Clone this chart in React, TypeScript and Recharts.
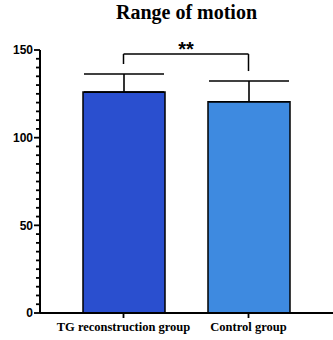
import { BarChart, Bar, XAxis, YAxis, ErrorBar, Cell, ReferenceLine } from 'recharts';

const groups = ['TG reconstruction group', 'Control group'];
const means = [126, 120.5];
const sdUpper = [10.3, 11.8];
const barColors = ['#2a4fcf', '#3e8ae0'];
const yTicks = Array.from({ length: 31 }, (_, i) => i * 5);
const majorTicks = [0, 50, 100, 150];
const bracketY = 147.7;
const bracketLegs = [142, 138];
const sigLabel = '**';

const data = groups.map((g, i) => ({ group: g, mean: means[i], err: [0, sdUpper[i]] }));

const YTick = (props: any) => {
  const { x, y, payload } = props;
  const major = majorTicks.includes(payload.value);
  const len = major ? 6 : 4;
  return (
    <g>
      <line x1={x - len} x2={x} y1={y} y2={y} stroke="#000" strokeWidth={1.8} />
      {major && (
        <text x={x - len - 1} y={y} dy="0.35em" textAnchor="end" fontSize={12} fontWeight="bold"
          fontFamily="Liberation Sans, Arial, sans-serif" fill="#000">
          {payload.value}
        </text>
      )}
    </g>
  );
};

export default function App() {
  return (
    <div style={{ position: 'absolute', left: 0, top: 0, width: 333, height: 340, background: '#fff' }}>
      <style>{'body{margin:0}'}</style>
      <div style={{
        position: 'absolute', left: 40, right: 0, top: 1, textAlign: 'center',
        fontFamily: 'Liberation Serif, Times New Roman, serif', fontWeight: 'bold', fontSize: 20, color: '#000',
      }}>
        Range of motion
      </div>
      <BarChart width={333} height={340} data={data} margin={{ top: 50, right: 0, left: 0, bottom: 0 }}>
        <XAxis dataKey="group" height={27} padding={{ left: 21, right: 22 }} axisLine={{ stroke: '#000', strokeWidth: 2 }}
          tickLine={{ stroke: '#000', strokeWidth: 1.8 }} tickSize={5} tickMargin={4}
          tick={{ fill: '#000', fontSize: 12.5, fontWeight: 'bold', fontFamily: 'Liberation Serif, Times New Roman, serif' }}
          interval={0} />
        <YAxis width={40} domain={[0, 150]} ticks={yTicks} interval={0} allowDataOverflow
          axisLine={{ stroke: '#000', strokeWidth: 2 }} tickLine={false} tickSize={0} tickMargin={0} tick={YTick} />
        <Bar dataKey="mean" barSize={82} stroke="#000" strokeWidth={1.5} isAnimationActive={false}>
          {data.map((d, i) => <Cell key={d.group} fill={barColors[i]} />)}
          <ErrorBar dataKey="err" width={40} stroke="#000" strokeWidth={1.6} direction="y" />
        </Bar>
        <ReferenceLine ifOverflow="visible" stroke="#000" strokeWidth={1.5}
          segment={[{ x: groups[0], y: bracketY }, { x: groups[1], y: bracketY }]}
          label={{ value: sigLabel, position: 'top', fill: '#000', fontSize: 20, fontWeight: 'bold', fontFamily: 'Liberation Sans, Arial, sans-serif', offset: -2 }} />
        <ReferenceLine ifOverflow="visible" stroke="#000" strokeWidth={1.5}
          segment={[{ x: groups[0], y: bracketY }, { x: groups[0], y: bracketLegs[0] }]} />
        <ReferenceLine ifOverflow="visible" stroke="#000" strokeWidth={1.5}
          segment={[{ x: groups[1], y: bracketY }, { x: groups[1], y: bracketLegs[1] }]} />
      </BarChart>
    </div>
  );
}
